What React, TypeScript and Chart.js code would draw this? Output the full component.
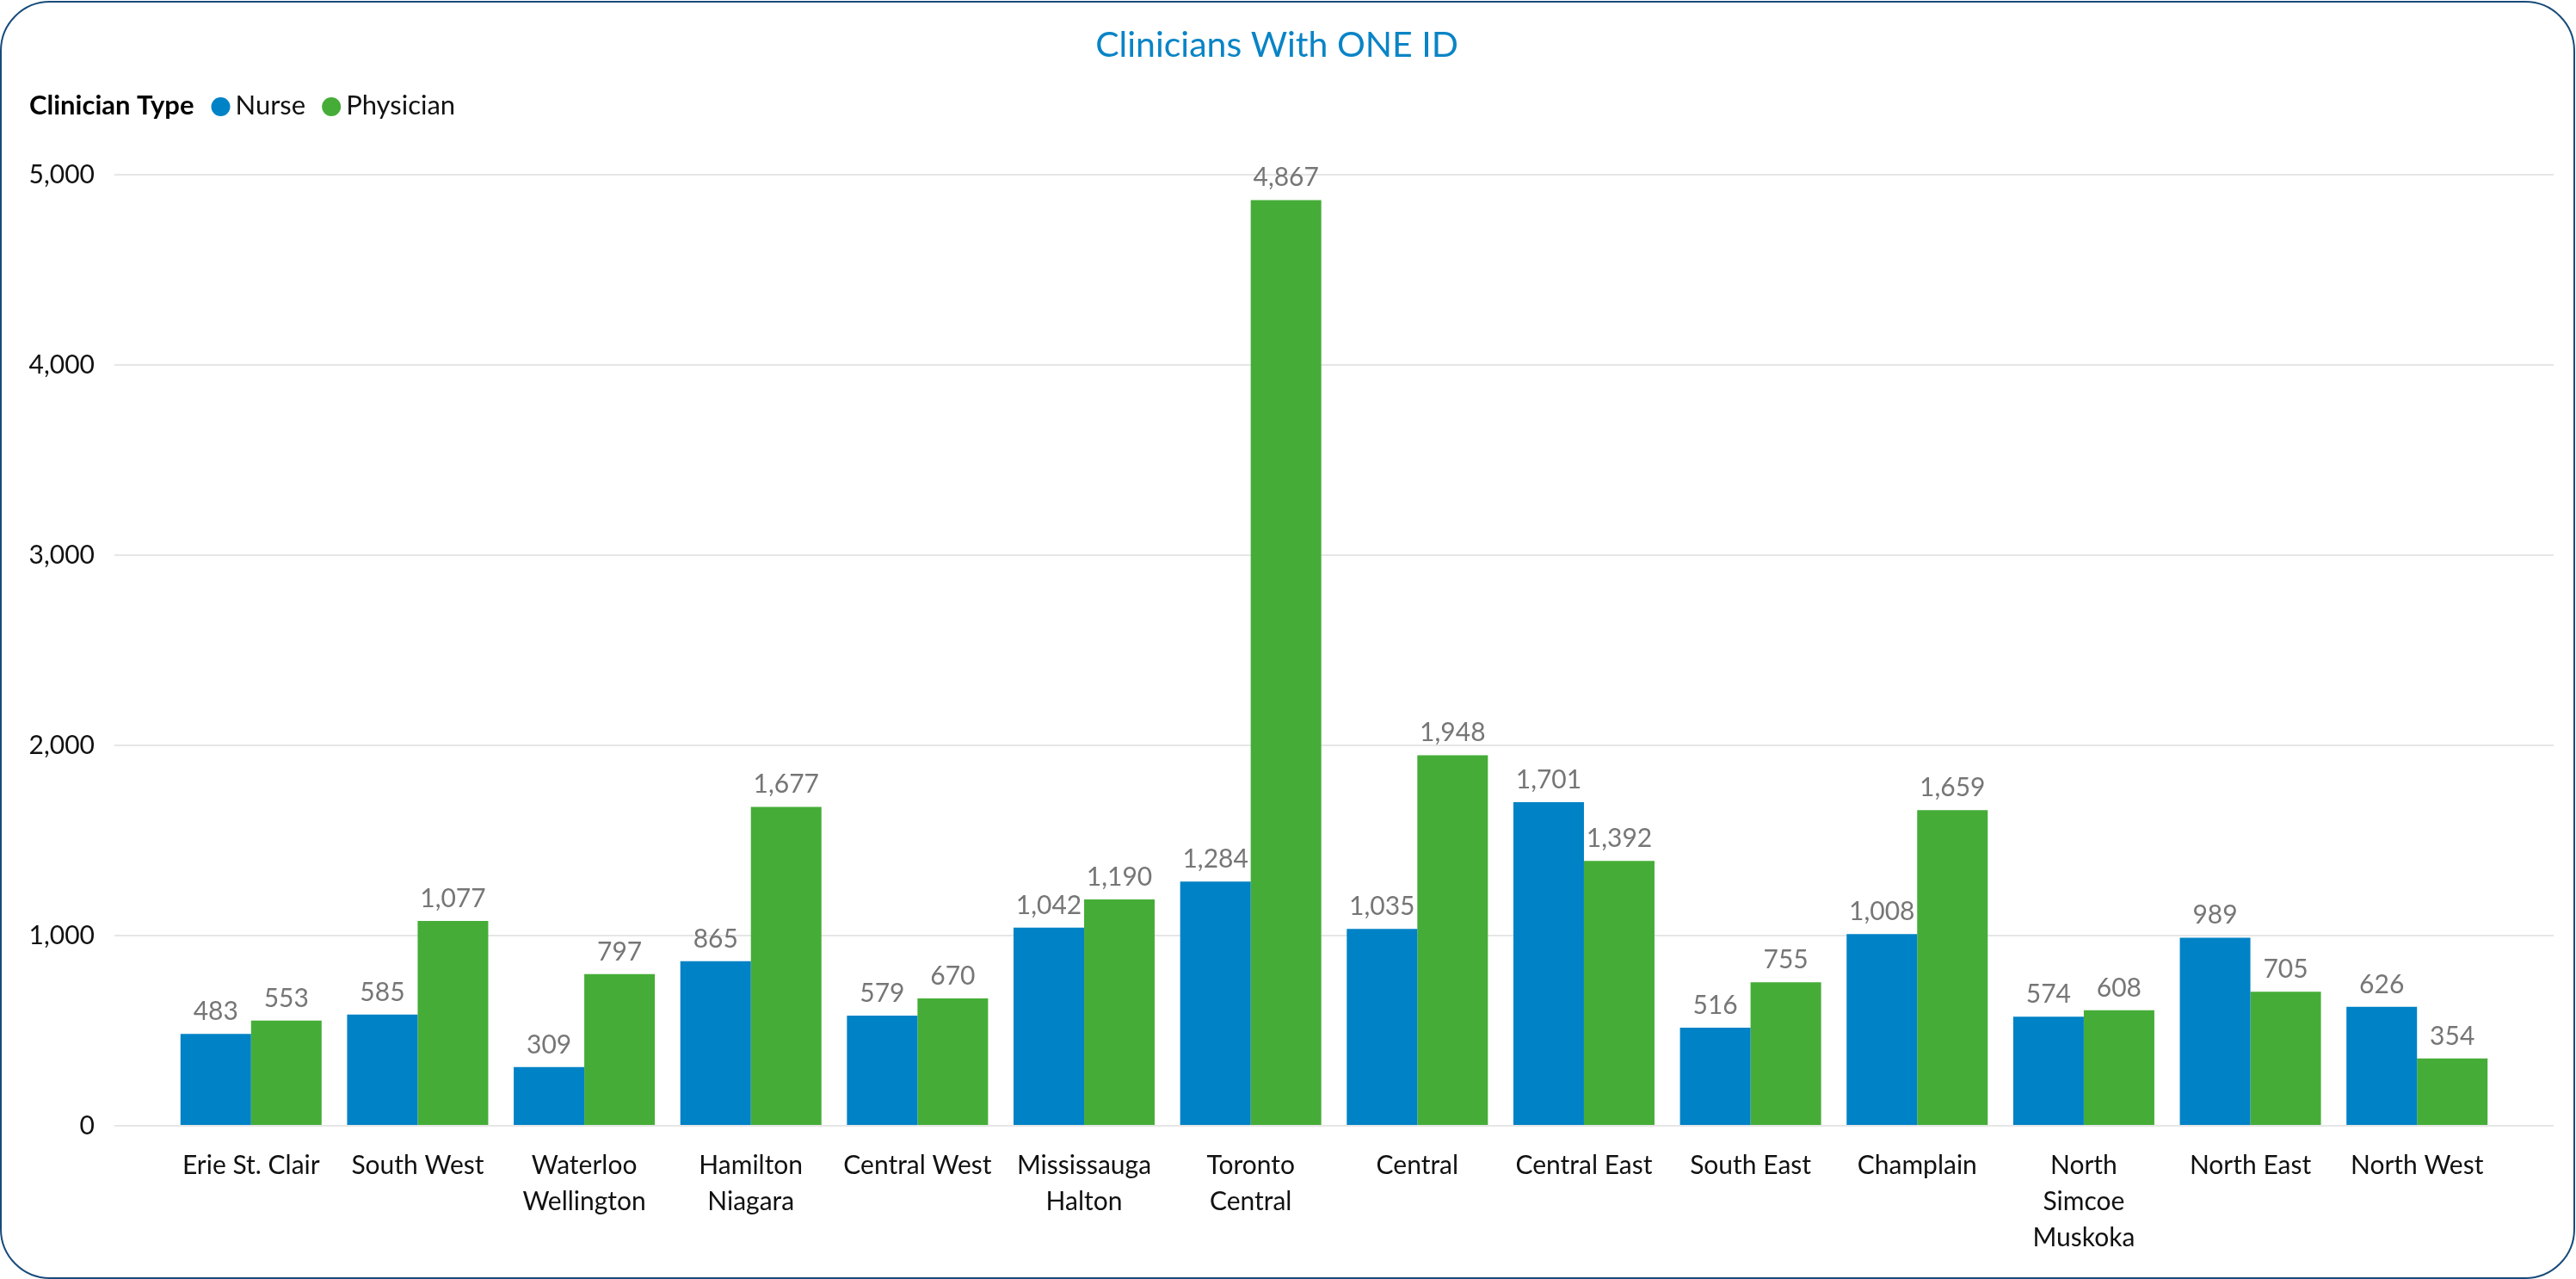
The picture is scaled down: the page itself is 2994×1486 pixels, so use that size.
import React, { useEffect, useRef } from 'react';
import { Chart, registerables } from 'chart.js';

Chart.register(...registerables);

const categories: (string | string[])[] = [
  'Erie St. Clair',
  'South West',
  ['Waterloo', 'Wellington'],
  ['Hamilton', 'Niagara'],
  'Central West',
  ['Mississauga', 'Halton'],
  ['Toronto', 'Central'],
  'Central',
  'Central East',
  'South East',
  'Champlain',
  ['North', 'Simcoe', 'Muskoka'],
  'North East',
  'North West',
];
const nurse = [483, 585, 309, 865, 579, 1042, 1284, 1035, 1701, 516, 1008, 574, 989, 626];
const physician = [553, 1077, 797, 1677, 670, 1190, 4867, 1948, 1392, 755, 1659, 608, 705, 354];
const yTickValues = [0, 1000, 2000, 3000, 4000, 5000];
const chartTitle = 'Clinicians With ONE ID';
const legendTitle = 'Clinician Type';
const seriesNames = ['Nurse', 'Physician'];
const seriesColors = ['#0082C6', '#45AD37'];

const W = 2994;
const H = 1486;
const FONT = 'Lato, "Open Sans", sans-serif';

export default function App() {
  const ref = useRef<HTMLCanvasElement>(null);

  useEffect(() => {
    const canvas = ref.current as HTMLCanvasElement;

    const valueLabels = {
      id: 'valueLabels',
      afterDatasetsDraw(chart: any) {
        const ctx = chart.ctx;
        ctx.save();
        ctx.font = `30px ${FONT}`;
        ctx.fillStyle = '#767676';
        ctx.textAlign = 'center';
        ctx.textBaseline = 'alphabetic';
        chart.data.datasets.forEach((ds: any, di: number) => {
          const meta = chart.getDatasetMeta(di);
          meta.data.forEach((el: any, i: number) => {
            const v = ds.data[i].y as number;
            ctx.fillText(v.toLocaleString('en-US'), el.x, el.y - 16);
          });
        });
        ctx.restore();
      },
    };

    const legendRow = {
      id: 'legendRow',
      afterDraw(chart: any) {
        const ctx = chart.ctx;
        ctx.save();
        const y = 123;
        ctx.textBaseline = 'middle';
        ctx.textAlign = 'left';
        ctx.font = `bold 31px ${FONT}`;
        ctx.fillStyle = '#000';
        let x = 34;
        ctx.fillText(legendTitle, x, y);
        x += ctx.measureText(legendTitle).width + 20;
        ctx.font = `31px ${FONT}`;
        seriesNames.forEach((name, i) => {
          ctx.fillStyle = seriesColors[i];
          ctx.beginPath();
          ctx.arc(x + 11, y + 1, 11, 0, Math.PI * 2);
          ctx.fill();
          x += 22 + 6;
          ctx.fillStyle = '#111';
          ctx.fillText(name, x, y);
          x += ctx.measureText(name).width + 19;
        });
        ctx.restore();
      },
    };

    const titleLine = 41 * 1.2;
    const chart = new Chart(canvas, {
      type: 'bar',
      data: {
        datasets: [
          {
            label: seriesNames[0],
            data: nurse.map((y, i) => ({ x: i, y })),
            backgroundColor: seriesColors[0],
            borderWidth: 0,
          },
          {
            label: seriesNames[1],
            data: physician.map((y, i) => ({ x: i, y })),
            backgroundColor: seriesColors[1],
            borderWidth: 0,
          },
        ],
      },
      options: {
        responsive: false,
        animation: false,
        devicePixelRatio: 1,
        datasets: { bar: { categoryPercentage: 0.847, barPercentage: 1.0 } },
        layout: { padding: { left: 0, right: W - 2968, top: 0, bottom: 0 } },
        plugins: {
          legend: { display: false },
          tooltip: { enabled: false },
          title: {
            display: true,
            text: chartTitle,
            color: '#0A84C6',
            font: { family: FONT, size: 41, weight: 'normal', lineHeight: 1.2 },
            padding: { top: 28, bottom: 203 - 28 - titleLine },
          },
        },
        scales: {
          x: {
            type: 'linear',
            min: -0.82,
            max: 13.82,
            offset: false,
            grid: { display: false },
            border: { display: false },
            afterBuildTicks: (axis: any) => {
              axis.ticks = categories.map((_, i) => ({ value: i }));
            },
            afterFit: (s: any) => {
              s.height = H - 1308;
            },
            ticks: {
              autoSkip: false,
              maxRotation: 0,
              minRotation: 0,
              padding: 17,
              color: '#111',
              font: { family: FONT, size: 30, lineHeight: 1.4 },
              callback: (v: any) => categories[Math.round(Number(v))] as any,
            },
          },
          y: {
            min: 0,
            max: 5000,
            afterBuildTicks: (axis: any) => {
              axis.ticks = yTickValues.map((v) => ({ value: v }));
            },
            afterFit: (s: any) => {
              s.width = 133;
            },
            ticks: {
              padding: 23,
              color: '#111',
              font: { family: FONT, size: 30 },
              callback: (v: any) => Number(v).toLocaleString('en-US'),
            },
            grid: { color: '#E6E6E6', lineWidth: 2, drawTicks: false },
            border: { display: false },
          },
        },
      } as any,
      plugins: [valueLabels, legendRow],
    });
    return () => chart.destroy();
  }, []);

  return (
    <div style={{ position: 'fixed', left: 0, top: 0, width: W, height: H, background: '#fff' }}>
      <div
        style={{
          position: 'absolute',
          left: 0,
          top: 1,
          width: W - 1,
          height: H - 1,
          boxSizing: 'border-box',
          border: '2.5px solid #174B7A',
          borderRadius: 58,
          pointerEvents: 'none',
        }}
      />
      <canvas ref={ref} width={W} height={H} style={{ position: 'absolute', left: 0, top: 0, width: W, height: H }} />
    </div>
  );
}
